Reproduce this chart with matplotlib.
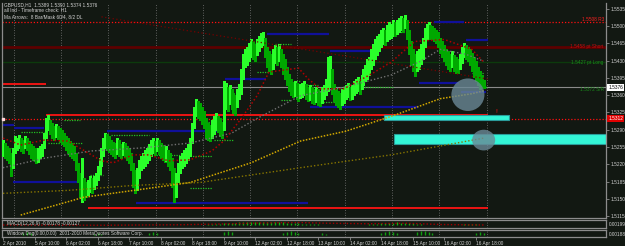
import numpy as np
import matplotlib
matplotlib.use("Agg")
import matplotlib.pyplot as plt
from matplotlib.patches import Rectangle, Ellipse

plt.rcParams["font.family"] = ["Liberation Sans", "DejaVu Sans"]

W, H = 625, 246
BG = "#121812"
GRID = "#7a7a7a"
TXT = "#d2d2d2"
FS = 3.4

# GBPUSD H1 bars, price x 10000
bar_high = [
    15269, 15263, 15257, 15253, 15243, 15253, 15277, 15273,
    15279, 15273, 15269, 15277, 15273, 15267, 15261, 15257,
    15253, 15249, 15253, 15257, 15261, 15283, 15313, 15319,
    15309, 15303, 15297, 15301, 15297, 15293, 15289, 15283,
    15277, 15273, 15267, 15263, 15257, 15243, 15223, 15203,
    15233, 15193, 15183, 15189, 15197, 15193, 15197, 15203,
    15217, 15233, 15253, 15273, 15283, 15281, 15277, 15269,
    15265, 15263, 15273, 15269, 15261, 15265, 15263, 15257,
    15253, 15243, 15223, 15209, 15213, 15229, 15237, 15243,
    15249, 15253, 15261, 15269, 15273, 15267, 15273, 15269,
    15263, 15259, 15253, 15257, 15249, 15243, 15233, 15213,
    15203, 15223, 15237, 15243, 15249, 15253, 15261, 15273,
    15303, 15337, 15353, 15349, 15345, 15337, 15329, 15313,
    15303, 15299, 15309, 15317, 15323, 15317, 15313, 15305,
    15389, 15385, 15377, 15381, 15373, 15365, 15361, 15373,
    15383, 15413, 15443, 15453, 15457, 15465, 15473, 15469,
    15463, 15473, 15481, 15487, 15489, 15477, 15457, 15449,
    15443, 15453, 15461, 15457, 15463, 15453, 15443, 15433,
    15417, 15403, 15393, 15387, 15389, 15385, 15381, 15383,
    15385, 15389, 15383, 15377, 15381, 15377, 15373, 15377,
    15373, 15369, 15377, 15381, 15393, 15437, 15439, 15413,
    15383, 15373, 15369, 15365, 15373, 15377, 15381, 15385,
    15377, 15381, 15389, 15393, 15397, 15389, 15401, 15413,
    15421, 15433, 15437, 15453, 15463, 15473, 15481, 15485,
    15493, 15497, 15493, 15503, 15509, 15505, 15513, 15509,
    15513, 15517, 15521, 15517, 15523, 15513, 15493, 15469,
    15453, 15443, 15449, 15453, 15463, 15477, 15497, 15505,
    15509, 15503, 15501, 15497, 15493, 15489, 15477, 15469,
    15461, 15453, 15449, 15443, 15449, 15441, 15437, 15433,
    15443, 15457, 15465, 15461, 15457, 15453, 15445, 15437,
    15429, 15417, 15409, 15401, 15390,
]
bar_low = [
    15237, 15233, 15229, 15223, 15197, 15213, 15243, 15249,
    15253, 15247, 15243, 15253, 15249, 15241, 15233, 15229,
    15227, 15223, 15225, 15233, 15237, 15253, 15273, 15289,
    15281, 15273, 15269, 15275, 15271, 15265, 15261, 15257,
    15249, 15243, 15237, 15233, 15229, 15209, 15183, 15153,
    15143, 15147, 15153, 15157, 15163, 15161, 15169, 15177,
    15189, 15201, 15217, 15237, 15253, 15249, 15245, 15241,
    15237, 15233, 15241, 15237, 15233, 15239, 15235, 15229,
    15223, 15209, 15173, 15161, 15167, 15193, 15209, 15213,
    15217, 15223, 15229, 15237, 15243, 15239, 15247, 15241,
    15233, 15229, 15225, 15227, 15217, 15209, 15173, 15143,
    15153, 15183, 15203, 15213, 15217, 15223, 15229, 15237,
    15263, 15293, 15317, 15313, 15309, 15301, 15293, 15273,
    15269, 15267, 15273, 15281, 15289, 15285, 15277, 15273,
    15289, 15333, 15329, 15343, 15333, 15323, 15319, 15337,
    15353, 15363, 15393, 15417, 15421, 15429, 15437, 15433,
    15429, 15441, 15449, 15457, 15461, 15437, 15417, 15409,
    15403, 15413, 15425, 15421, 15429, 15417, 15403, 15393,
    15381, 15369, 15361, 15357, 15359, 15353, 15349, 15355,
    15357, 15361, 15353, 15349, 15351, 15345, 15343, 15347,
    15341, 15339, 15345, 15353, 15361, 15369, 15377, 15363,
    15349, 15341, 15337, 15333, 15341, 15345, 15353, 15357,
    15351, 15353, 15361, 15365, 15369, 15363, 15373, 15381,
    15389, 15393, 15401, 15413, 15421, 15433, 15441, 15449,
    15457, 15463, 15461, 15469, 15473, 15477, 15481, 15481,
    15485, 15489, 15493, 15489, 15497, 15473, 15443, 15421,
    15409, 15399, 15409, 15413, 15423, 15433, 15457, 15473,
    15477, 15473, 15473, 15469, 15465, 15457, 15445, 15437,
    15429, 15421, 15413, 15409, 15417, 15409, 15405, 15405,
    15413, 15425, 15437, 15433, 15429, 15421, 15409, 15397,
    15389, 15381, 15373, 15377, 15374,
]

date_labels = ["2 Apr 2010", "5 Apr 10:00", "6 Apr 02:00", "6 Apr 18:00",
               "7 Apr 10:00", "8 Apr 02:00", "8 Apr 18:00", "9 Apr 10:00",
               "12 Apr 02:00", "12 Apr 18:00", "13 Apr 10:00", "14 Apr 02:00",
               "14 Apr 18:00", "15 Apr 10:00", "16 Apr 02:00", "16 Apr 18:00"]
date_bars = list(range(0, 16 * len(date_labels), 16))
grid_bars = [5.5, 29.5, 53.5, 77.5, 101.5, 125.5, 149.5, 173.5, 197.5, 221.5, 245.5]
price_ticks = [1.5115, 1.5150, 1.5185, 1.5220, 1.5255, 1.5290, 1.5325,
               1.5360, 1.5395, 1.5430, 1.5465, 1.5500, 1.5535]

# moving averages (bar, price) read at turning points
fast_ma_bars = [0, 9, 21, 33, 50, 56, 66, 74, 84, 95, 106, 112, 121, 129, 135,
                150, 155, 161, 173, 187, 197, 209, 224, 238, 244]
fast_ma = [1.5273, 1.5259, 1.5269, 1.5267, 1.5227, 1.5223, 1.5239, 1.5239,
           1.5227, 1.5229, 1.5247, 1.5267, 1.5313, 1.5359, 1.5407, 1.5415,
           1.5393, 1.5373, 1.5373, 1.5403, 1.5427, 1.5469, 1.5473, 1.5453, 1.5427]
slow_ma_bars = [0, 22, 45, 70, 95, 116, 129, 151, 174, 197, 212, 222, 235, 244]
slow_ma = [1.5213, 1.5233, 1.5247, 1.5253, 1.5263, 1.5283, 1.5313, 1.5359,
           1.5377, 1.5401, 1.5429, 1.5453, 1.5443, 1.5429]
ma200_bars = [9, 41, 70, 95, 126, 151, 174, 197, 222, 238, 244]
ma200 = [1.5117, 1.5153, 1.5169, 1.5183, 1.5223, 1.5267, 1.5287, 1.5317,
         1.5353, 1.5363, 1.5369]
ma365_bars = [0, 33, 66, 100, 151, 197, 222, 244]
ma365 = [1.5161, 1.5167, 1.5177, 1.5183, 1.5213, 1.5239, 1.5257, 1.5273]
trend_bars = [50, 246]
trend = [1.5519, 1.5393]

# horizontal levels
r3_level = 1.5508
short_level = 1.5458
long_level = 1.5427
sr_level = 1.5372
bid = 1.5376
alert_level = 1.5312
red_segments = [(1.5383, 0, 22), (1.5319, 22, 246), (1.5131, 43, 246)]
blue_segments = [(1.5299, 0, 5.6), (1.5293, 5.6, 21), (1.5183, 5, 41),
                 (1.5287, 53, 112), (1.5141, 67.5, 155), (1.5393, 112.7, 133.5),
                 (1.5485, 134, 165.5), (1.5449, 166, 192), (1.5337, 156, 210.7),
                 (1.5509, 219, 234), (1.5471, 235, 246), (1.5385, 211, 231.5),
                 (1.5367, 232.5, 245)]
green_segments = [(1.5253, 0, 4), (1.5285, 9, 21), (1.5309, 31, 39),
                  (1.5263, 23, 40), (1.5199, 44, 51), (1.5279, 55, 74),
                  (1.5239, 75, 90), (1.5237, 95, 106), (1.5305, 104, 111),
                  (1.5269, 107, 117), (1.5171, 95, 106), (1.5465, 126, 132),
                  (1.5463, 138, 146), (1.5407, 129, 135), (1.5351, 141, 146),
                  (1.5389, 146, 151), (1.5381, 152, 160), (1.5347, 160, 173),
                  (1.5377, 182, 198), (1.5489, 193, 206), (1.5409, 227, 231),
                  (1.5405, 238, 244), (1.5377, 241, 246)]
zones = [(193.4, 256.9, 1.5309, 1.5319), (198.5, 306.1, 1.5261, 1.5281)]
blobs = [(236, 1.5361, 16.8, 0.0066), (244, 1.5269, 11.7, 0.0042)]

# MACD pane
macd_idx = list(range(100, 168, 2)) + list(range(182, 218, 2)) + list(range(230, 246, 2))
macd_vals = [1, 2, 3, 4, 5, 6, 7, 8, 9, 10, 11, 12, 12, 13, 13, 14, 14, 13,
             13, 12, 12, 11, 10, 9, 8, 7, 6, 5, 4, 3, 3, 2, 2, 1,
             1, 2, 3, 5, 6, 8, 9, 10, 10, 11, 10, 9, 8, 7, 5, 4, 2, 1,
             1, 2, 3, 3, 4, 3, 2, 1]
signal_bars = [0, 50, 90, 110, 130, 150, 165, 185, 205, 222, 244]
signal_vals = [0, -1, 1, 4, 8, 10, 7, 5, 7, 2, 0]

# lower indicator pane
w_idx = [10, 12, 14, 46, 48, 50, 74, 76, 78, 112, 114, 116, 142, 144, 146, 148,
         150, 162, 164, 192, 194, 196, 198, 200, 210, 212, 214, 216, 218, 240, 242, 244]
w_vals = [2, 3, 2, 1, 2, 1, 2, 3, 2, 3, 4, 3, 2, 3, 4, 3, 2, 2, 1, 2, 3, 4, 3,
          2, 3, 4, 4, 3, 2, 2, 3, 2]

fig = plt.figure(figsize=(W / 100, H / 100), dpi=100, facecolor=BG)


def pane(x0, y0, x1, y1, top=True):
    a = fig.add_axes([x0 / W, 1 - y1 / H, (x1 - x0) / W, (y1 - y0) / H])
    a.set_facecolor(BG)
    a.set_xlim(-0.5, 306.1)
    for s in a.spines.values():
        s.set_color("#8c8c8c")
        s.set_linewidth(0.9)
    a.spines["top"].set_visible(top)
    a.tick_params(left=False, labelleft=False, bottom=False, labelbottom=False)
    return a


ax = pane(2, 3, 606, 218, top=False)
ax_macd = pane(2, 220, 606, 228)
ax_w = pane(2, 230, 606, 237)

for a in (ax, ax_macd, ax_w):
    for g in grid_bars:
        a.axvline(g, color=GRID, lw=0.6, ls=(0, (1, 2)), zorder=0.5)

# main pane
ax.set_ylim(1.5111, 1.5547)
ax.set_yticks(price_ticks)
ax.set_yticklabels([f"{t:.4f}" for t in price_ticks])
ax.tick_params(axis="y", right=True, labelright=True, length=2, width=0.6,
               pad=1.5, colors="#8c8c8c", labelcolor=TXT, labelsize=FS)

ax.axhline(r3_level, color="#ff1010", lw=0.9, ls=(0, (1, 1.5)), zorder=1)
ax.axhline(short_level, color="#5c0000", lw=2.0, zorder=1)
ax.axhline(long_level, color="#0c3a0c", lw=1.0, zorder=1)
ax.axhline(bid, color="#8a8a8a", lw=0.8, zorder=1)
ax.axhline(alert_level, color="#ff1010", lw=0.9, ls=(0, (1, 1.5)), zorder=1)
for lvl, b1, b2 in red_segments:
    ax.hlines(lvl, b1, b2, color="#ff1414", lw=1.3, zorder=2)
for lvl, b1, b2 in blue_segments:
    ax.hlines(lvl, b1, b2, color="#10109a", lw=1.6, zorder=2)
for lvl, b1, b2 in green_segments:
    ax.hlines(lvl, b1, b2, color="#22c022", lw=0.9, ls=(0, (1, 1)), zorder=2)

ax.text(305, r3_level + 0.0001, f"{r3_level:.4f} R3", color="#ff2020",
        fontsize=FS, ha="right", va="bottom")
ax.text(305, short_level, f"{short_level:.4f} pt Short", color="#c01010",
        fontsize=FS, ha="right", va="center")
ax.text(305, long_level, f"{long_level:.4f} pt Long", color="#1a8a1a",
        fontsize=FS, ha="right", va="center")
ax.text(305, sr_level, f"{sr_level:.4f} S/R", color="#1a8a1a",
        fontsize=FS, ha="right", va="center")

for b1, b2, lo, hi in zones:
    ax.add_patch(Rectangle((b1, lo), b2 - b1, hi - lo, facecolor="#33f5d6",
                           edgecolor="#2a9c9a", lw=0.8, zorder=2.5))

# price bars
hi = np.array(bar_high) / 10000
lo = np.array(bar_low) / 10000
mid = (hi + lo) / 2
up = np.r_[True, mid[1:] >= mid[:-1]]
cols = np.where(up, "#2aff2a", "#00a800")
ax.vlines(np.arange(len(hi)), lo, hi, colors=cols, lw=0.85,
          antialiased=False, zorder=3)

ax.plot(ma365_bars, ma365, color="#857400", lw=1.0, ls=(0, (1, 1.5)), zorder=4)
ax.plot(ma200_bars, ma200, color="#d2a800", lw=1.1, ls=(0, (1, 1)), zorder=4)
ax.plot(slow_ma_bars, slow_ma, color="#727272", lw=1.0, ls=(0, (1, 1.5)), zorder=4)
ax.plot(fast_ma_bars, fast_ma, color="#b00000", lw=1.1, ls=(0, (1, 1.5)), zorder=4)
ax.plot(trend_bars, trend, color="#760000", lw=0.9, ls=(0, (1, 2)), zorder=4)

for bx, py, bw, ph in blobs:
    ax.add_patch(Ellipse((bx, py), bw, ph, facecolor="#6a8896", edgecolor="none",
                         alpha=0.8, zorder=5))
ax.text(250, 1.5327, "!!", color="#d01010", fontsize=FS, ha="left", va="center")
ax.plot([0], [alert_level], marker="s", ms=1.8, color="#ffd8d8", zorder=6,
        clip_on=False)

ytr = ax.get_yaxis_transform()
ax.text(1.004, bid, f"{bid:.4f}", transform=ytr, ha="left", va="center",
        fontsize=FS, color="black", clip_on=False,
        bbox=dict(boxstyle="square,pad=0.2", fc="white", ec="none"))
ax.text(1.004, alert_level, f"{alert_level:.4f}", transform=ytr, ha="left",
        va="center", fontsize=FS, color="white", clip_on=False,
        bbox=dict(boxstyle="square,pad=0.2", fc="#e00000", ec="none"))

fig.text(4 / W, 1 - 5 / H, "GBPUSD,H1  1.5389 1.5390 1.5374 1.5376",
         color=TXT, fontsize=FS, va="center")
fig.text(4 / W, 1 - 10.5 / H, "all Ind - Timeframe check: H1",
         color=TXT, fontsize=FS, va="center")
fig.text(4 / W, 1 - 16.5 / H, "Ma Arrows:  8 Bar/Mask 60/4, 8/2 DL",
         color=TXT, fontsize=FS, va="center")

# MACD pane
ax_macd.set_ylim(-12, 20)
ax_macd.vlines(macd_idx, 0, macd_vals, color="#10b010", lw=1.0, zorder=3)
ax_macd.plot(signal_bars, signal_vals, color="#a00000", lw=1.0,
             ls=(0, (1, 1.5)), zorder=4)
ax_macd.text(2, 17, "MACD(12,26,9) -0.00178 -0.00127", color=TXT,
             fontsize=FS, va="top", zorder=5)
fig.text(609 / W, 1 - 224 / H, "0.00199", color=TXT, fontsize=FS, va="center")

# lower pane
ax_w.set_ylim(-2, 5.5)
ax_w.vlines(w_idx, 0, w_vals, color="#10a010", lw=1.0, zorder=3)
ax_w.text(2, 4.8, "Window Deg(0.00,0.00)  2001-2010 MetaQuotes Software Corp.",
          color=TXT, fontsize=FS, va="top", zorder=5)
fig.text(609 / W, 1 - 234 / H, "0.00188", color=TXT, fontsize=FS, va="center")

ax_w.set_xticks(date_bars)
ax_w.set_xticklabels(date_labels, ha="left")
ax_w.tick_params(axis="x", bottom=True, labelbottom=True, length=2, width=0.6,
                 pad=0.8, colors="#8c8c8c", labelcolor=TXT, labelsize=FS)

fig.savefig("out.png", dpi=100, facecolor=BG)
